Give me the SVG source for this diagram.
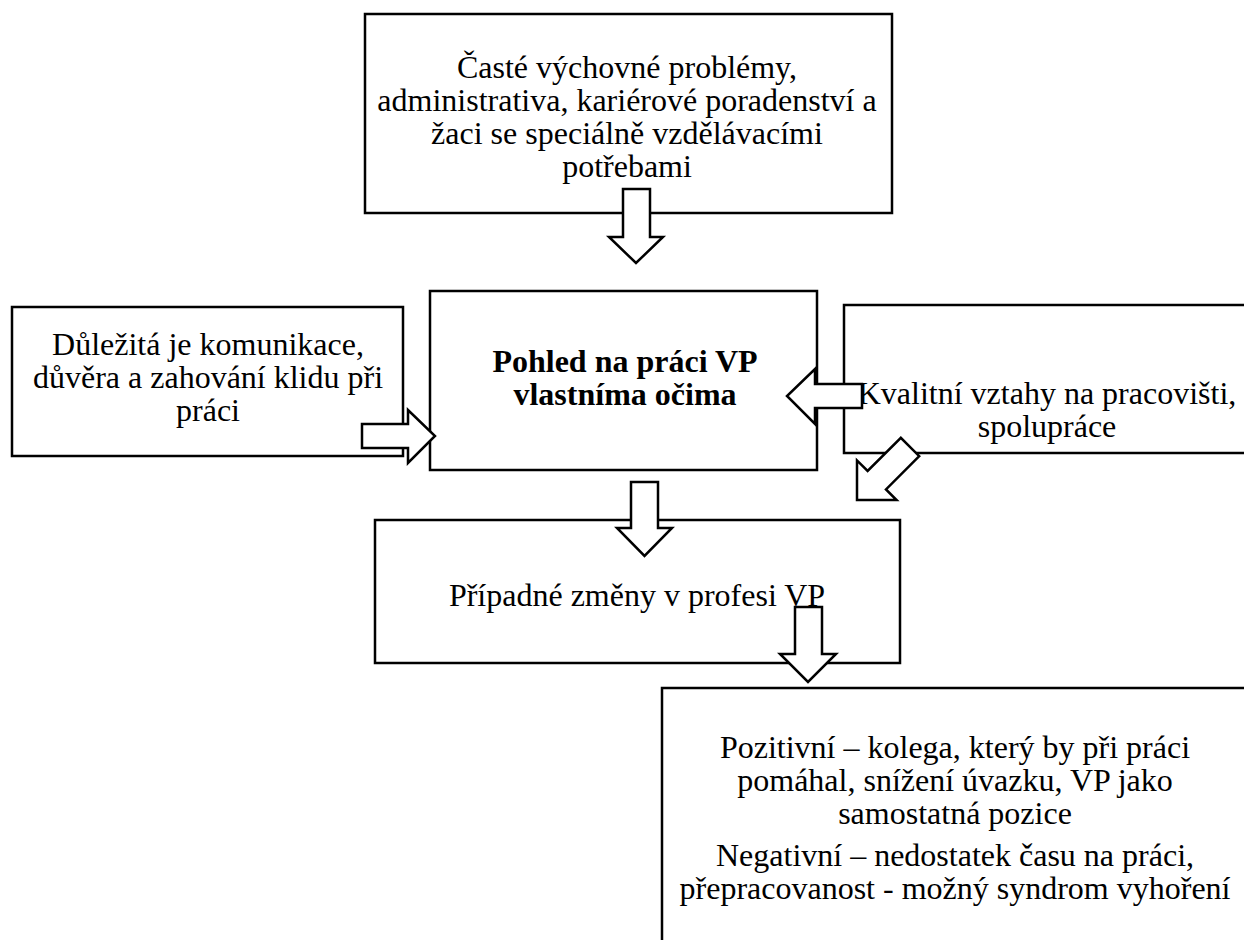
<svg xmlns="http://www.w3.org/2000/svg" width="1244" height="940" viewBox="0 0 1244 940">
<style>
.box{fill:#fff;stroke:#000;stroke-width:2.5}
.arr{fill:#fff;stroke:#000;stroke-width:2.5;stroke-linejoin:miter}
</style>
<rect width="1244" height="940" fill="#fff"/>
<g font-family="Liberation Serif, DejaVu Serif, serif" font-size="32" fill="#000" text-anchor="middle">
<g id="n-top">
<rect class="box" x="365" y="14" width="527" height="199"/>
<text x="627" y="78">Časté výchovné problémy,</text>
<text x="627" y="111">administrativa, kariérové poradenství a</text>
<text x="627" y="144">žaci se speciálně vzdělávacími</text>
<text x="627" y="177">potřebami</text>
</g>
<g id="n-left">
<rect class="box" x="12" y="307" width="391" height="149"/>
<text x="208" y="355">Důležitá je komunikace,</text>
<text x="208" y="388">důvěra a zahování klidu při</text>
<text x="208" y="421">práci</text>
</g>
<g id="n-center">
<rect class="box" x="430" y="291" width="387" height="179"/>
<text font-weight="bold" x="625" y="372">Pohled na práci VP</text>
<text font-weight="bold" x="625" y="405">vlastníma očima</text>
</g>
<g id="n-right">
<rect class="box" x="844" y="305" width="410" height="148"/>
<text x="1047" y="404">Kvalitní vztahy na pracovišti,</text>
<text x="1047" y="437">spolupráce</text>
</g>
<g id="n-middle">
<rect class="box" x="375" y="520" width="525" height="143"/>
<text x="637" y="606">Případné změny v profesi VP</text>
</g>
<g id="n-bottom">
<rect class="box" x="662" y="688" width="592" height="270"/>
<text x="955" y="758">Pozitivní – kolega, který by při práci</text>
<text x="955" y="791">pomáhal, snížení úvazku, VP jako</text>
<text x="955" y="824">samostatná pozice</text>
<text x="955" y="866">Negativní – nedostatek času na práci,</text>
<text x="955" y="899">přepracovanost - možný syndrom vyhoření</text>
</g>
</g>
<g id="connectors">
<polygon class="arr" points="623,189 650,189 650,237 663,237 636,263 609,237 623,237"/>
<polygon class="arr" points="362,424 408,424 408,410 435,436 408,463 408,448 362,448"/>
<polygon class="arr" points="862,384 862,408 815,408 815,424 787,396 815,369 815,384"/>
<polygon class="arr" transform="translate(857,500) rotate(135)" points="-75,-13 -28,-13 -28,-28 0,0 -28,28 -28,13 -75,13"/>
<polygon class="arr" points="631,482 658,482 658,528 672,528 644.5,556 617,528 631,528"/>
<polygon class="arr" points="795,607 822,607 822,654 836,654 808,682 780,654 795,654"/>
</g>
</svg>
